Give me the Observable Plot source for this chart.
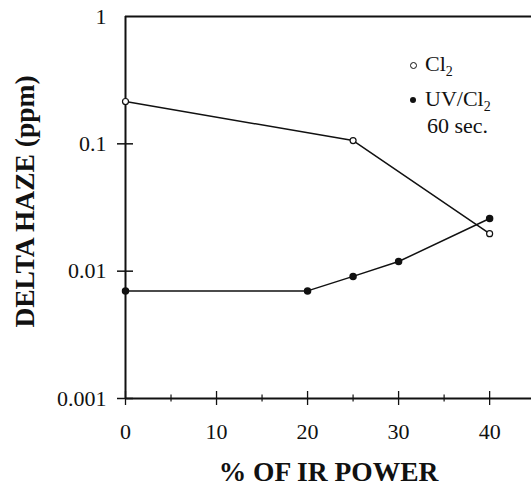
<!DOCTYPE html>
<html><head><meta charset="utf-8">
<script src="https://cdn.jsdelivr.net/npm/d3@7"></script>
<script src="https://cdn.jsdelivr.net/npm/@observablehq/plot@0.6"></script>
<style>
body{margin:0;background:#fff;}
#wrap{position:relative;width:531px;height:489px;font-family:"Liberation Serif",serif;}
.leg{position:absolute;font-size:22px;line-height:22px;color:#111;white-space:nowrap;}
.leg sub{font-size:14px;vertical-align:-5px;line-height:0;}
.mk{position:absolute;border-radius:50%;box-sizing:border-box;}
</style>
</head><body>
<div id="wrap"></div>
<script>
const xMajor = [0, 10, 20, 30, 40];
const xMinor = [5, 15, 25, 35];
const yTicks = [0.001, 0.01, 0.1, 1];
const yCross = [0.001, 0.01, 0.1];
const yTickLabels = ["0.001", "0.01", "0.1", "1"];
const cl2X = [0, 25, 40];
const cl2Y = [0.215, 0.106, 0.0197];
const uvX = [0, 20, 25, 30, 40];
const uvY = [0.007, 0.007, 0.0091, 0.0119, 0.0259];
const xTitle = "% OF IR POWER";
const yTitle = "DELTA HAZE (ppm)";

const cl2 = cl2X.map((x, i) => ({x, y: cl2Y[i]}));
const uv = uvX.map((x, i) => ({x, y: uvY[i]}));
const fmt = d => yTickLabels[yTicks.indexOf(d)] ?? "";

const chart = Plot.plot({
  width: 531, height: 489,
  marginLeft: 125, marginRight: 0, marginTop: 16, marginBottom: 91,
  x: {domain: [0, 44.6]},
  y: {type: "log", domain: [0.001, 1]},
  style: {fontFamily: "Liberation Serif", fontSize: "22px", background: "white", color: "#111"},
  marks: [
    Plot.axisY({ticks: yCross, tickSize: 16, dx: 8, tickFormat: () => "", label: null, strokeWidth: 1.5}),
    Plot.axisY({ticks: yTicks, tickSize: 0, tickPadding: 19, tickFormat: fmt, label: null, fontSize: 22}),
    Plot.axisX({ticks: xMajor, tickSize: 14, dy: -7, tickFormat: () => "", label: null, strokeWidth: 1.3}),
    Plot.axisX({ticks: xMinor, tickSize: 7, dy: -3.5, tickFormat: () => "", label: null, strokeWidth: 1.2}),
    Plot.axisX({ticks: xMajor, tickSize: 0, tickPadding: 25, label: null, fontSize: 22}),
    Plot.ruleX([0], {stroke: "#111", strokeWidth: 2}),
    Plot.ruleY([0.001], {stroke: "#111", strokeWidth: 2}),
    Plot.ruleY([1], {stroke: "#111", strokeWidth: 2}),
    Plot.line(cl2, {x: "x", y: "y", stroke: "#111", strokeWidth: 1.5}),
    Plot.line(uv, {x: "x", y: "y", stroke: "#111", strokeWidth: 1.5}),
    Plot.dot(cl2, {x: "x", y: "y", r: 3, fill: "white", stroke: "#111", strokeWidth: 1.2}),
    Plot.dot(uv, {x: "x", y: "y", r: 3, fill: "#111", stroke: "#111"}),
    Plot.text([yTitle], {frameAnchor: "left", textAnchor: "middle", rotate: -90, dx: -100, dy: -6, fontWeight: "bold", fontSize: 27.5}),
    Plot.text([xTitle], {frameAnchor: "bottom", dy: 82, fontWeight: "bold", fontSize: 27.5})
  ]
});
const wrap = document.getElementById("wrap");
wrap.appendChild(chart);
wrap.insertAdjacentHTML("beforeend", `
  <div class="mk" style="left:410px;top:62px;width:7px;height:7px;border:1.3px solid #111;background:#fff"></div>
  <div class="leg" style="left:425px;top:53px">Cl<sub>2</sub></div>
  <div class="mk" style="left:410px;top:97px;width:6px;height:6px;background:#111"></div>
  <div class="leg" style="left:425px;top:88px">UV/Cl<sub>2</sub></div>
  <div class="leg" style="left:427px;top:115px">60 sec.</div>
`);
</script>
</body></html>
